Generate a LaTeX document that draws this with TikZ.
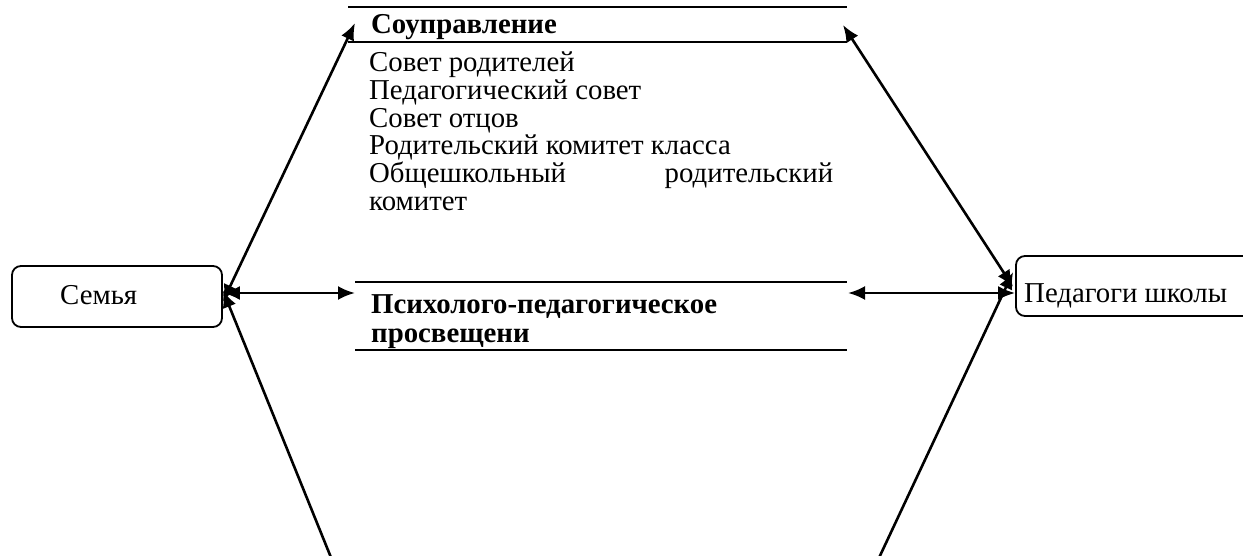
\documentclass[tikz,border=0pt]{standalone}
\usepackage{fontspec}
\setmainfont{Liberation Serif}
\usetikzlibrary{arrows.meta}
\begin{document}
\begin{tikzpicture}[x=1pt,y=-1pt,
  txt/.style={anchor=base west,inner sep=0pt,font=\fontsize{28.8}{27.6}\selectfont},
  btxt/.style={txt,font=\fontsize{28.8}{27.6}\selectfont\bfseries},
  rule/.style={line width=1.5pt},
  boxst/.style={draw,line width=1.8pt,rounded corners=9pt,inner sep=0pt},
  tip/.style={Latex[length=17pt,width=14pt]},
  conn/.style={line width=2.6pt,{Latex[length=17pt,width=14pt]}-{Latex[length=17pt,width=14pt]}},
  conn1/.style={line width=2.6pt,{Latex[length=17pt,width=14pt]}-}]
\useasboundingbox (0,0) rectangle (1243,556);
\clip (0,0) rectangle (1243,556);
% boxes
\node[boxst,minimum width=210pt,minimum height=61pt] (semya) at (117,296.5) {};
\node[txt] (semyat) at (60,305) {Семья};
\node[boxst,minimum width=250pt,minimum height=60pt] (ped) at (1141,286) {};
\node[txt] (pedt) at (1024,302) {Педагоги школы};
% top block
\coordinate (r1a) at (348,7); \coordinate (r1b) at (847,7);
\coordinate (r2a) at (348,42); \coordinate (r2b) at (847,42);
\draw[rule] (r1a) -- (r1b);
\draw[rule] (r2a) -- (r2b);
\node[btxt] (sou) at (371,34) {Соуправление};
\node[txt] (l1) at (369,72) {Совет родителей};
\node[txt] (l2) at (369,99.6) {Педагогический совет};
\node[txt] (l3) at (369,127.2) {Совет отцов};
\node[txt] (l4) at (369,154.8) {Родительский комитет класса};
\node[txt] (l5) at (369,182.4) {\makebox[464pt][s]{Общешкольный\hfill родительский}};
\node[txt] (l6) at (369,211) {комитет};
% lower block
\coordinate (r3a) at (355,282); \coordinate (r3b) at (847,282);
\coordinate (r4a) at (355,350); \coordinate (r4b) at (847,350);
\draw[rule] (r3a) -- (r3b);
\draw[rule] (r4a) -- (r4b);
\node[btxt] (psy1) at (371,313) {Психолого-педагогическое};
\node[btxt] (psy2) at (371,342) {просвещени};
% connector endpoints
\coordinate (tl) at (355,23);
\coordinate (tr) at (843,25);
\coordinate (ml) at (355,293);
\coordinate (mr) at (848,293);
\coordinate (bl) at (332,560);
\coordinate (br) at (878,560);
\draw[conn] ([yshift=-5pt]semya.east) -- (tl);
\draw[conn] (semya.east |- 0,293) -- (ml);
\draw[conn1] ([yshift=6pt]semya.east) -- (bl);
\draw[conn] ([xshift=-2pt,yshift=-1pt]ped.west) -- (tr);
\draw[conn] (mr) -- (ped.west |- 0,293);
\draw[conn1] ([xshift=-2pt,yshift=14pt]ped.west) -- (br);
\end{tikzpicture}
\end{document}
